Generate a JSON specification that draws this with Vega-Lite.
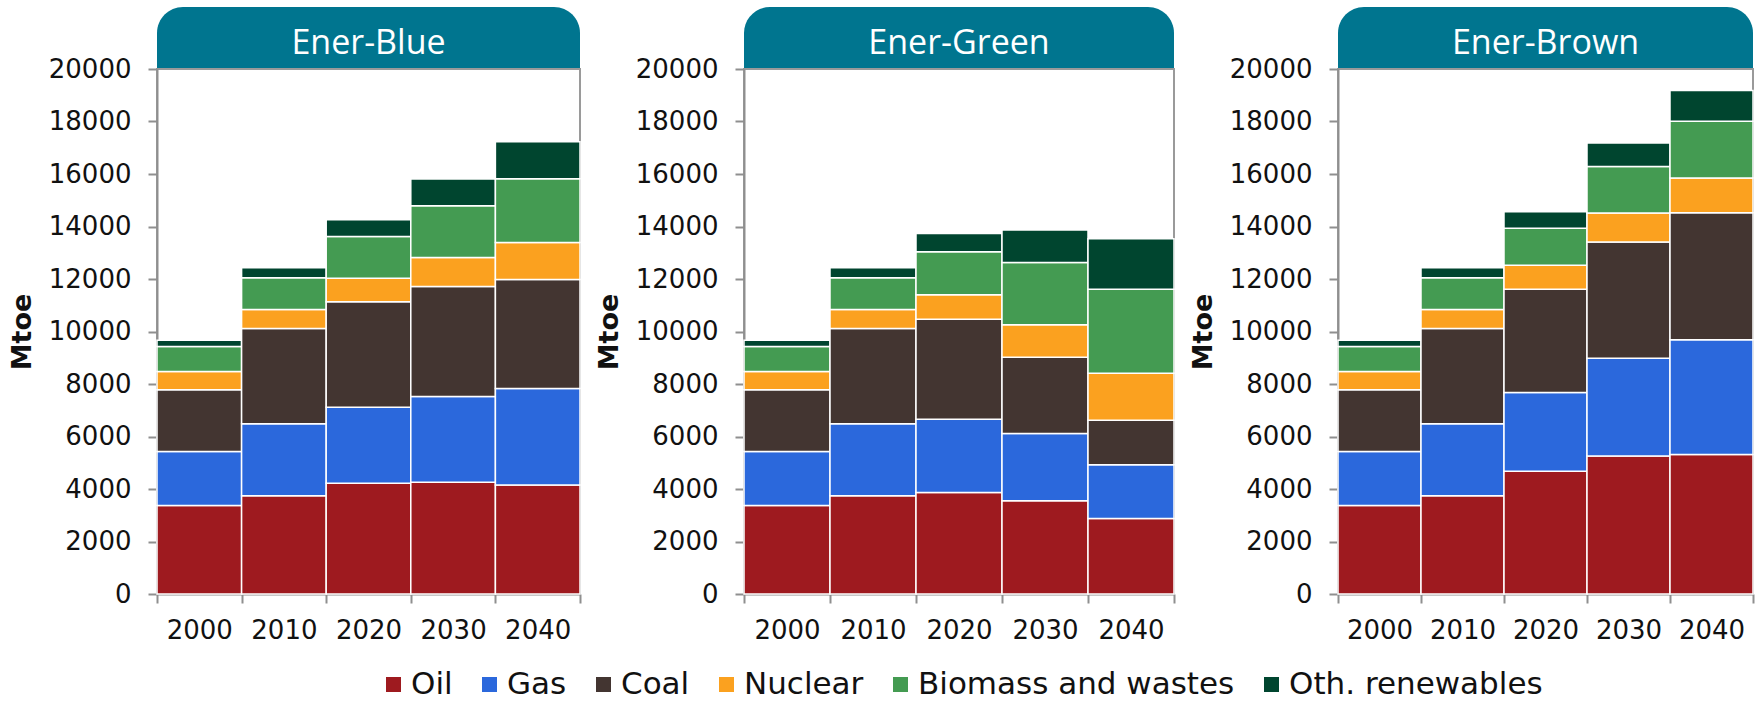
{
  "$schema": "https://vega.github.io/schema/vega-lite/v6.json",
  "padding": {"left": 7, "top": 7, "right": 0, "bottom": 0},
  "background": "white",
  "datasets": {
    "energy": [
      {"scenario": "Ener-Blue", "year": "2000", "source": "Oil", "mtoe": 3370},
      {"scenario": "Ener-Blue", "year": "2000", "source": "Gas", "mtoe": 2060},
      {"scenario": "Ener-Blue", "year": "2000", "source": "Coal", "mtoe": 2350},
      {"scenario": "Ener-Blue", "year": "2000", "source": "Nuclear", "mtoe": 700},
      {"scenario": "Ener-Blue", "year": "2000", "source": "Biomass and wastes", "mtoe": 950},
      {"scenario": "Ener-Blue", "year": "2000", "source": "Oth. renewables", "mtoe": 240},
      {"scenario": "Ener-Blue", "year": "2010", "source": "Oil", "mtoe": 3745},
      {"scenario": "Ener-Blue", "year": "2010", "source": "Gas", "mtoe": 2740},
      {"scenario": "Ener-Blue", "year": "2010", "source": "Coal", "mtoe": 3625},
      {"scenario": "Ener-Blue", "year": "2010", "source": "Nuclear", "mtoe": 730},
      {"scenario": "Ener-Blue", "year": "2010", "source": "Biomass and wastes", "mtoe": 1210},
      {"scenario": "Ener-Blue", "year": "2010", "source": "Oth. renewables", "mtoe": 375},
      {"scenario": "Ener-Blue", "year": "2020", "source": "Oil", "mtoe": 4220},
      {"scenario": "Ener-Blue", "year": "2020", "source": "Gas", "mtoe": 2895},
      {"scenario": "Ener-Blue", "year": "2020", "source": "Coal", "mtoe": 4015},
      {"scenario": "Ener-Blue", "year": "2020", "source": "Nuclear", "mtoe": 900},
      {"scenario": "Ener-Blue", "year": "2020", "source": "Biomass and wastes", "mtoe": 1585},
      {"scenario": "Ener-Blue", "year": "2020", "source": "Oth. renewables", "mtoe": 645},
      {"scenario": "Ener-Blue", "year": "2030", "source": "Oil", "mtoe": 4255},
      {"scenario": "Ener-Blue", "year": "2030", "source": "Gas", "mtoe": 3270},
      {"scenario": "Ener-Blue", "year": "2030", "source": "Coal", "mtoe": 4185},
      {"scenario": "Ener-Blue", "year": "2030", "source": "Nuclear", "mtoe": 1105},
      {"scenario": "Ener-Blue", "year": "2030", "source": "Biomass and wastes", "mtoe": 1975},
      {"scenario": "Ener-Blue", "year": "2030", "source": "Oth. renewables", "mtoe": 1020},
      {"scenario": "Ener-Blue", "year": "2040", "source": "Oil", "mtoe": 4150},
      {"scenario": "Ener-Blue", "year": "2040", "source": "Gas", "mtoe": 3680},
      {"scenario": "Ener-Blue", "year": "2040", "source": "Coal", "mtoe": 4155},
      {"scenario": "Ener-Blue", "year": "2040", "source": "Nuclear", "mtoe": 1410},
      {"scenario": "Ener-Blue", "year": "2040", "source": "Biomass and wastes", "mtoe": 2420},
      {"scenario": "Ener-Blue", "year": "2040", "source": "Oth. renewables", "mtoe": 1410},

      {"scenario": "Ener-Green", "year": "2000", "source": "Oil", "mtoe": 3370},
      {"scenario": "Ener-Green", "year": "2000", "source": "Gas", "mtoe": 2060},
      {"scenario": "Ener-Green", "year": "2000", "source": "Coal", "mtoe": 2350},
      {"scenario": "Ener-Green", "year": "2000", "source": "Nuclear", "mtoe": 700},
      {"scenario": "Ener-Green", "year": "2000", "source": "Biomass and wastes", "mtoe": 950},
      {"scenario": "Ener-Green", "year": "2000", "source": "Oth. renewables", "mtoe": 240},
      {"scenario": "Ener-Green", "year": "2010", "source": "Oil", "mtoe": 3745},
      {"scenario": "Ener-Green", "year": "2010", "source": "Gas", "mtoe": 2740},
      {"scenario": "Ener-Green", "year": "2010", "source": "Coal", "mtoe": 3625},
      {"scenario": "Ener-Green", "year": "2010", "source": "Nuclear", "mtoe": 730},
      {"scenario": "Ener-Green", "year": "2010", "source": "Biomass and wastes", "mtoe": 1210},
      {"scenario": "Ener-Green", "year": "2010", "source": "Oth. renewables", "mtoe": 375},
      {"scenario": "Ener-Green", "year": "2020", "source": "Oil", "mtoe": 3865},
      {"scenario": "Ener-Green", "year": "2020", "source": "Gas", "mtoe": 2790},
      {"scenario": "Ener-Green", "year": "2020", "source": "Coal", "mtoe": 3810},
      {"scenario": "Ener-Green", "year": "2020", "source": "Nuclear", "mtoe": 935},
      {"scenario": "Ener-Green", "year": "2020", "source": "Biomass and wastes", "mtoe": 1635},
      {"scenario": "Ener-Green", "year": "2020", "source": "Oth. renewables", "mtoe": 700},
      {"scenario": "Ener-Green", "year": "2030", "source": "Oil", "mtoe": 3555},
      {"scenario": "Ener-Green", "year": "2030", "source": "Gas", "mtoe": 2555},
      {"scenario": "Ener-Green", "year": "2030", "source": "Coal", "mtoe": 2910},
      {"scenario": "Ener-Green", "year": "2030", "source": "Nuclear", "mtoe": 1240},
      {"scenario": "Ener-Green", "year": "2030", "source": "Biomass and wastes", "mtoe": 2365},
      {"scenario": "Ener-Green", "year": "2030", "source": "Oth. renewables", "mtoe": 1240},
      {"scenario": "Ener-Green", "year": "2040", "source": "Oil", "mtoe": 2875},
      {"scenario": "Ener-Green", "year": "2040", "source": "Gas", "mtoe": 2045},
      {"scenario": "Ener-Green", "year": "2040", "source": "Coal", "mtoe": 1700},
      {"scenario": "Ener-Green", "year": "2040", "source": "Nuclear", "mtoe": 1785},
      {"scenario": "Ener-Green", "year": "2040", "source": "Biomass and wastes", "mtoe": 3200},
      {"scenario": "Ener-Green", "year": "2040", "source": "Oth. renewables", "mtoe": 1925},

      {"scenario": "Ener-Brown", "year": "2000", "source": "Oil", "mtoe": 3370},
      {"scenario": "Ener-Brown", "year": "2000", "source": "Gas", "mtoe": 2060},
      {"scenario": "Ener-Brown", "year": "2000", "source": "Coal", "mtoe": 2350},
      {"scenario": "Ener-Brown", "year": "2000", "source": "Nuclear", "mtoe": 700},
      {"scenario": "Ener-Brown", "year": "2000", "source": "Biomass and wastes", "mtoe": 950},
      {"scenario": "Ener-Brown", "year": "2000", "source": "Oth. renewables", "mtoe": 240},
      {"scenario": "Ener-Brown", "year": "2010", "source": "Oil", "mtoe": 3745},
      {"scenario": "Ener-Brown", "year": "2010", "source": "Gas", "mtoe": 2740},
      {"scenario": "Ener-Brown", "year": "2010", "source": "Coal", "mtoe": 3625},
      {"scenario": "Ener-Brown", "year": "2010", "source": "Nuclear", "mtoe": 730},
      {"scenario": "Ener-Brown", "year": "2010", "source": "Biomass and wastes", "mtoe": 1210},
      {"scenario": "Ener-Brown", "year": "2010", "source": "Oth. renewables", "mtoe": 375},
      {"scenario": "Ener-Brown", "year": "2020", "source": "Oil", "mtoe": 4680},
      {"scenario": "Ener-Brown", "year": "2020", "source": "Gas", "mtoe": 2995},
      {"scenario": "Ener-Brown", "year": "2020", "source": "Coal", "mtoe": 3930},
      {"scenario": "Ener-Brown", "year": "2020", "source": "Nuclear", "mtoe": 920},
      {"scenario": "Ener-Brown", "year": "2020", "source": "Biomass and wastes", "mtoe": 1410},
      {"scenario": "Ener-Brown", "year": "2020", "source": "Oth. renewables", "mtoe": 630},
      {"scenario": "Ener-Brown", "year": "2030", "source": "Oil", "mtoe": 5260},
      {"scenario": "Ener-Brown", "year": "2030", "source": "Gas", "mtoe": 3725},
      {"scenario": "Ener-Brown", "year": "2030", "source": "Coal", "mtoe": 4425},
      {"scenario": "Ener-Brown", "year": "2030", "source": "Nuclear", "mtoe": 1105},
      {"scenario": "Ener-Brown", "year": "2030", "source": "Biomass and wastes", "mtoe": 1770},
      {"scenario": "Ener-Brown", "year": "2030", "source": "Oth. renewables", "mtoe": 900},
      {"scenario": "Ener-Brown", "year": "2040", "source": "Oil", "mtoe": 5310},
      {"scenario": "Ener-Brown", "year": "2040", "source": "Gas", "mtoe": 4375},
      {"scenario": "Ener-Brown", "year": "2040", "source": "Coal", "mtoe": 4835},
      {"scenario": "Ener-Brown", "year": "2040", "source": "Nuclear", "mtoe": 1330},
      {"scenario": "Ener-Brown", "year": "2040", "source": "Biomass and wastes", "mtoe": 2160},
      {"scenario": "Ener-Brown", "year": "2040", "source": "Oth. renewables", "mtoe": 1175}
    ]
  },
  "hconcat": [
    {
      "spacing": 0,
      "bounds": "flush",
      "vconcat": [
        {
          "width": 423, "height": 62, "view": {"stroke": null},
          "data": {"values": [{"scenario": "Ener-Blue"}]},
          "layer": [
            {"mark": {"type": "rect", "color": "#00758f", "cornerRadiusTopLeft": 26, "cornerRadiusTopRight": 26},
             "encoding": {"x": {"field": "scenario", "type": "nominal", "axis": null, "scale": {"paddingInner": 0, "paddingOuter": 0}}}},
            {"mark": {"type": "text", "color": "white", "fontSize": 34, "font": "Open Sans", "dy": 6},
             "encoding": {"x": {"field": "scenario", "type": "nominal", "axis": null, "scale": {"paddingInner": 0, "paddingOuter": 0}}, "text": {"field": "scenario"}}}
          ]
        },
        {
          "width": 423, "height": 525,
          "data": {"name": "energy"},
          "transform": [
            {"filter": "datum.scenario === 'Ener-Blue'"},
            {"calculate": "indexof(['Oil', 'Gas', 'Coal', 'Nuclear', 'Biomass and wastes', 'Oth. renewables'], datum.source)", "as": "stackRank"}
          ],
          "mark": {"type": "bar", "stroke": "white", "strokeWidth": 1.5},
          "encoding": {
            "x": {"field": "year", "type": "ordinal", "scale": {"paddingInner": 0, "paddingOuter": 0}},
            "y": {"field": "mtoe", "type": "quantitative", "stack": "zero", "scale": {"domain": [0, 20000], "nice": false}, "axis": {"title": "Mtoe", "values": [0, 2000, 4000, 6000, 8000, 10000, 12000, 14000, 16000, 18000, 20000], "format": "d"}},
            "order": {"field": "stackRank", "type": "quantitative", "sort": "ascending"},
            "color": {"field": "source", "type": "nominal",
              "scale": {"domain": ["Oil", "Gas", "Coal", "Nuclear", "Biomass and wastes", "Oth. renewables"], "range": ["#9e1a1f", "#2b68dc", "#433531", "#fba11f", "#449b52", "#00452f"]}}
          }
        }
      ]
    },
    {
      "spacing": 0,
      "bounds": "flush",
      "vconcat": [
        {
          "width": 430, "height": 62, "view": {"stroke": null},
          "data": {"values": [{"scenario": "Ener-Green"}]},
          "layer": [
            {"mark": {"type": "rect", "color": "#00758f", "cornerRadiusTopLeft": 26, "cornerRadiusTopRight": 26},
             "encoding": {"x": {"field": "scenario", "type": "nominal", "axis": null, "scale": {"paddingInner": 0, "paddingOuter": 0}}}},
            {"mark": {"type": "text", "color": "white", "fontSize": 34, "font": "Open Sans", "dy": 6},
             "encoding": {"x": {"field": "scenario", "type": "nominal", "axis": null, "scale": {"paddingInner": 0, "paddingOuter": 0}}, "text": {"field": "scenario"}}}
          ]
        },
        {
          "width": 430, "height": 525,
          "data": {"name": "energy"},
          "transform": [
            {"filter": "datum.scenario === 'Ener-Green'"},
            {"calculate": "indexof(['Oil', 'Gas', 'Coal', 'Nuclear', 'Biomass and wastes', 'Oth. renewables'], datum.source)", "as": "stackRank"}
          ],
          "mark": {"type": "bar", "stroke": "white", "strokeWidth": 1.5},
          "encoding": {
            "x": {"field": "year", "type": "ordinal", "scale": {"paddingInner": 0, "paddingOuter": 0}},
            "y": {"field": "mtoe", "type": "quantitative", "stack": "zero", "scale": {"domain": [0, 20000], "nice": false}, "axis": {"title": "Mtoe", "values": [0, 2000, 4000, 6000, 8000, 10000, 12000, 14000, 16000, 18000, 20000], "format": "d"}},
            "order": {"field": "stackRank", "type": "quantitative", "sort": "ascending"},
            "color": {"field": "source", "type": "nominal",
              "scale": {"domain": ["Oil", "Gas", "Coal", "Nuclear", "Biomass and wastes", "Oth. renewables"], "range": ["#9e1a1f", "#2b68dc", "#433531", "#fba11f", "#449b52", "#00452f"]}}
          }
        }
      ]
    },
    {
      "spacing": 0,
      "bounds": "flush",
      "vconcat": [
        {
          "width": 415, "height": 62, "view": {"stroke": null},
          "data": {"values": [{"scenario": "Ener-Brown"}]},
          "layer": [
            {"mark": {"type": "rect", "color": "#00758f", "cornerRadiusTopLeft": 26, "cornerRadiusTopRight": 26},
             "encoding": {"x": {"field": "scenario", "type": "nominal", "axis": null, "scale": {"paddingInner": 0, "paddingOuter": 0}}}},
            {"mark": {"type": "text", "color": "white", "fontSize": 34, "font": "Open Sans", "dy": 6},
             "encoding": {"x": {"field": "scenario", "type": "nominal", "axis": null, "scale": {"paddingInner": 0, "paddingOuter": 0}}, "text": {"field": "scenario"}}}
          ]
        },
        {
          "width": 415, "height": 525,
          "data": {"name": "energy"},
          "transform": [
            {"filter": "datum.scenario === 'Ener-Brown'"},
            {"calculate": "indexof(['Oil', 'Gas', 'Coal', 'Nuclear', 'Biomass and wastes', 'Oth. renewables'], datum.source)", "as": "stackRank"}
          ],
          "mark": {"type": "bar", "stroke": "white", "strokeWidth": 1.5},
          "encoding": {
            "x": {"field": "year", "type": "ordinal", "scale": {"paddingInner": 0, "paddingOuter": 0}},
            "y": {"field": "mtoe", "type": "quantitative", "stack": "zero", "scale": {"domain": [0, 20000], "nice": false}, "axis": {"title": "Mtoe", "values": [0, 2000, 4000, 6000, 8000, 10000, 12000, 14000, 16000, 18000, 20000], "format": "d"}},
            "order": {"field": "stackRank", "type": "quantitative", "sort": "ascending"},
            "color": {"field": "source", "type": "nominal",
              "scale": {"domain": ["Oil", "Gas", "Coal", "Nuclear", "Biomass and wastes", "Oth. renewables"], "range": ["#9e1a1f", "#2b68dc", "#433531", "#fba11f", "#449b52", "#00452f"]}}
          }
        }
      ]
    }
  ],
  "spacing": 12,
  "resolve": {"scale": {"color": "shared"}, "legend": {"color": "shared"}},
  "config": {
    "font": "DejaVu Sans",
    "view": {"stroke": "#9a9a9a", "strokeWidth": 2},
    "axis": {
      "grid": false,
      "domainColor": "#8f8f8f", "domainWidth": 2,
      "tickColor": "#8f8f8f", "tickWidth": 2, "tickSize": 9,
      "labelFont": "DejaVu Sans", "labelFontSize": 26, "labelColor": "#111111"
    },
    "axisY": {"labelPadding": 17, "titleFont": "DejaVu Sans", "titleFontSize": 27, "titleFontWeight": "bold", "titleColor": "#111111", "titlePadding": 12},
    "axisX": {"labelPadding": 14, "labelAngle": 0, "tickBand": "extent", "title": null},
    "legend": {
      "orient": "none", "legendX": 221, "legendY": 662, "direction": "horizontal",
      "title": null, "padding": 0, "gridAlign": "none",
      "symbolType": "square", "symbolSize": 225, "symbolStrokeWidth": 0,
      "labelFont": "DejaVu Sans", "labelFontSize": 31, "labelColor": "#111111", "labelLimit": 0,
      "labelOffset": 2, "columnPadding": 21
    }
  }
}
